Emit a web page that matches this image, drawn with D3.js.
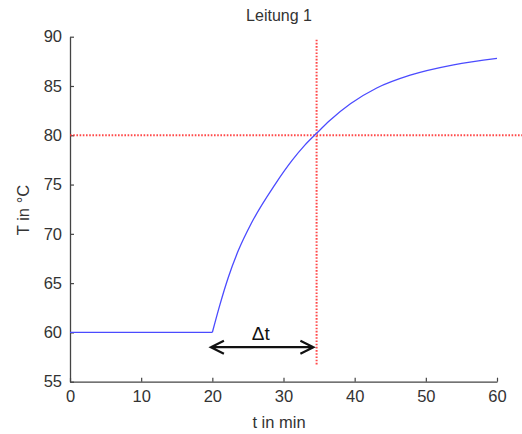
<!DOCTYPE html>
<html><head><meta charset="utf-8">
<script src="https://cdn.jsdelivr.net/npm/d3@7"></script>
<style>
html,body{margin:0;padding:0;background:#fff;}
svg{display:block;}
text{font-family:"Liberation Sans",Arial,sans-serif;fill:#333;}
</style></head>
<body>
<script>
// ---- data ----
const title = "Leitung 1";
const xLabel = "t in min";
const yLabel = "T in °C";
const xTicks = [0, 10, 20, 30, 40, 50, 60];
const yTicks = [55, 60, 65, 70, 75, 80, 85, 90];
const time = [0, 20, 21.1, 22.25, 23.65, 25.5, 28.8, 31.15, 33.0, 34.65, 36.5, 39.4, 43.1, 47.8, 53.9, 60];
const temp = [60, 60, 62.9, 65.6, 68.3, 71.1, 75.0, 77.4, 79.0, 80.2, 81.5, 83.2, 84.8, 86.1, 87.15, 87.8];
const markT = 34.65;          // vertical marker
const markTemp = 80;          // horizontal marker
const markVRange = [56.6, 89.7];
const markHRange = [0, 66];
const arrowRange = [19.8, 34.2];
const arrowTemp = 58.5;
const deltaLabel = "Δt";
const deltaPos = [26.8, 59.9];

// ---- layout ----
const W = 522, H = 434;
const svg = d3.select("body").append("svg").attr("width", W).attr("height", H);
const x = d3.scaleLinear().domain([0, 60]).range([70, 497]);
const y = d3.scaleLinear().domain([55, 90]).range([381.7, 36.7]);
const axisColor = "#444";

// title
svg.append("text").attr("x", 279).attr("y", 21).attr("text-anchor", "middle")
  .attr("font-size", 16).text(title);

// axes
const gx = svg.append("g").attr("transform", `translate(0,${y(55)})`)
  .call(d3.axisBottom(x).tickValues(xTicks).tickSizeInner(-4).tickSizeOuter(0).tickPadding(9));
const gy = svg.append("g").attr("transform", `translate(${x(0)},0)`)
  .call(d3.axisLeft(y).tickValues(yTicks).tickSizeInner(-4).tickSizeOuter(0).tickPadding(8));
[gx, gy].forEach(g => {
  g.select(".domain").attr("stroke", axisColor).attr("stroke-width", 1.3);
  g.selectAll(".tick line").attr("stroke", axisColor).attr("stroke-width", 1.2);
  g.selectAll(".tick text").attr("font-size", 16.5).attr("fill", "#333")
    .attr("font-family", "'Liberation Sans',Arial,sans-serif");
});

// axis labels
svg.append("text").attr("x", 279).attr("y", 428).attr("text-anchor", "middle")
  .attr("font-size", 16.5).text(xLabel);
svg.append("text").attr("transform", `translate(29,210) rotate(-90)`)
  .attr("text-anchor", "middle").attr("font-size", 16.5).text(yLabel);

// red dotted markers
const red = "#ff2a2a";
svg.append("line")
  .attr("x1", x(markHRange[0])).attr("x2", x(markHRange[1]))
  .attr("y1", y(markTemp)).attr("y2", y(markTemp))
  .attr("stroke", red).attr("stroke-width", 2).attr("stroke-dasharray", "1.6,1.6").attr("opacity", 0.85);
svg.append("line")
  .attr("x1", x(markT)).attr("x2", x(markT))
  .attr("y1", y(markVRange[1])).attr("y2", y(markVRange[0]))
  .attr("stroke", red).attr("stroke-width", 2).attr("stroke-dasharray", "1.6,1.6").attr("opacity", 0.85);

// blue curve
const pts = time.map((t, i) => [t, temp[i]]);
const kink = time.indexOf(20);
const lineLin = d3.line().x(d => x(d[0])).y(d => y(d[1]));
const lineSmooth = d3.line().x(d => x(d[0])).y(d => y(d[1])).curve(d3.curveMonotoneX);
svg.append("path").attr("d", lineLin(pts.slice(0, kink + 1)))
  .attr("fill", "none").attr("stroke", "#4b4bff").attr("stroke-width", 1.3);
svg.append("path").attr("d", lineSmooth(pts.slice(kink)))
  .attr("fill", "none").attr("stroke", "#4b4bff").attr("stroke-width", 1.3);

// double arrow
const ax1 = x(arrowRange[0]), ax2 = x(arrowRange[1]), ay = y(arrowTemp);
const hl = 13, hw = 6.5;
svg.append("path")
  .attr("d", `M${ax1},${ay}L${ax2},${ay}` +
    `M${ax1 + hl},${ay - hw}L${ax1},${ay}L${ax1 + hl},${ay + hw}` +
    `M${ax2 - hl},${ay - hw}L${ax2},${ay}L${ax2 - hl},${ay + hw}`)
  .attr("fill", "none").attr("stroke", "#111").attr("stroke-width", 2.2)
  .attr("stroke-linejoin", "miter");
svg.append("text").attr("x", x(deltaPos[0])).attr("y", y(deltaPos[1]) + 7)
  .attr("text-anchor", "middle").attr("font-size", 19).style("fill", "#111").text(deltaLabel);
</script>
</body></html>
